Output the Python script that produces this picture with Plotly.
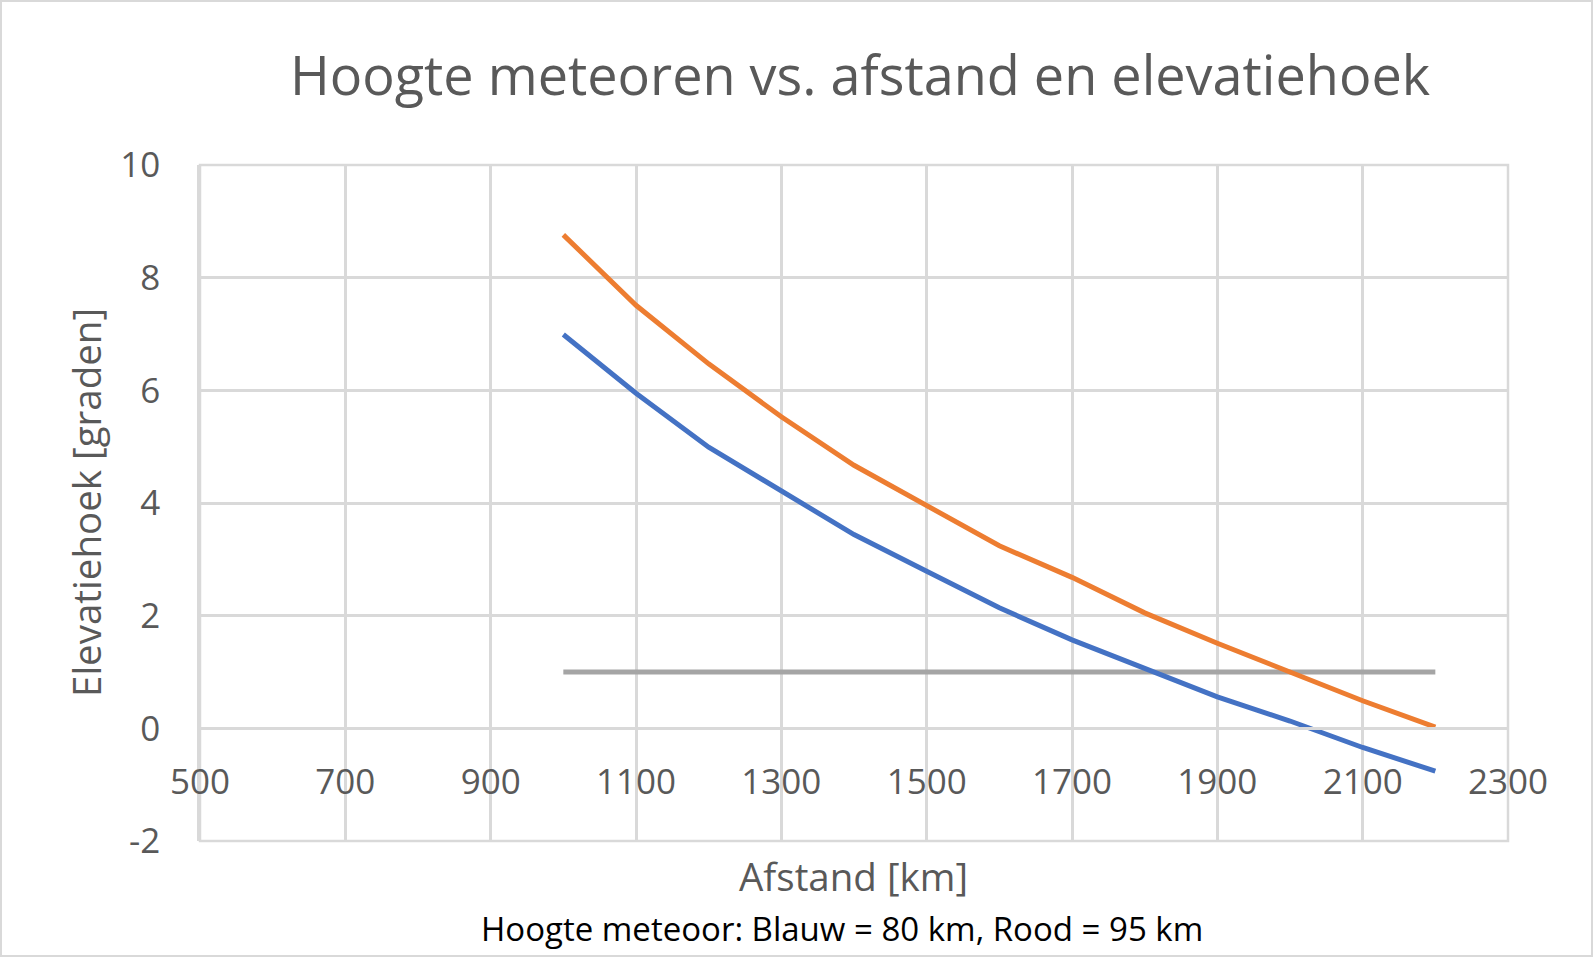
import plotly.graph_objects as go

# ---- data ----
afstand = [1000, 1100, 1200, 1300, 1400, 1500, 1600, 1700, 1800, 1900, 2000, 2100, 2200]
hoek_80km = [6.99, 5.95, 4.99, 4.22, 3.44, 2.79, 2.14, 1.57, 1.06, 0.56, 0.13, -0.34, -0.76]
hoek_95km = [8.76, 7.51, 6.47, 5.53, 4.67, 3.95, 3.24, 2.68, 2.05, 1.51, 0.99, 0.49, 0.02]
grens_x = [1000, 2200]
grens_y = [1, 1]

x_ticks = [500, 700, 900, 1100, 1300, 1500, 1700, 1900, 2100, 2300]
y_ticks = [-2, 0, 2, 4, 6, 8, 10]
y_ticktext = ["-2", "0", "2", "4", "6", "8", "10"]

title_text = "Hoogte meteoren vs. afstand en elevatiehoek"
x_title = "Afstand [km]"
y_title = "Elevatiehoek [graden]"
subtitle = "Hoogte meteoor: Blauw = 80 km, Rood = 95 km"

W, H = 1593, 957
L, R, T, B = 200, 85, 165, 116
PW, PH = W - L - R, H - T - B
FONT = "'Open Sans', sans-serif"
GRAY = "#595959"
GRID = "#d9d9d9"

fig = go.Figure()
fig.add_trace(go.Scatter(x=grens_x, y=grens_y, mode="lines",
                         line=dict(color="#A5A5A5", width=5), showlegend=False))
fig.add_trace(go.Scatter(x=afstand, y=hoek_95km, mode="lines",
                         line=dict(color="#ED7D31", width=5), showlegend=False))
fig.add_trace(go.Scatter(x=afstand, y=hoek_80km, mode="lines",
                         line=dict(color="#4472C4", width=5), showlegend=False))

fig.update_layout(
    width=W, height=H,
    margin=dict(l=L, r=R, t=T, b=B),
    paper_bgcolor="white", plot_bgcolor="white",
    font=dict(family=FONT, color=GRAY),
    showlegend=False,
    xaxis=dict(range=[500, 2300], tickvals=x_ticks, showgrid=True, gridcolor=GRID, gridwidth=2.5,
               anchor="free", position=1/6, showline=True, linecolor=GRID, linewidth=2.5,
               zeroline=False, ticks="", ticklabelstandoff=22,
               tickfont=dict(family=FONT, size=35, color=GRAY)),
    yaxis=dict(range=[-2, 10], tickvals=y_ticks, ticktext=y_ticktext, showgrid=True,
               gridcolor=GRID, gridwidth=2.5,
               zeroline=False, showline=True, linecolor=GRID, linewidth=2.5, ticks="",
               ticklabelstandoff=30,
               tickfont=dict(family=FONT, size=35, color=GRAY)),
)

def px_x(px):
    return (px - L) / PW

def px_y(py):
    return (H - B - py) / PH

fig.add_annotation(text=title_text, x=px_x(860), y=px_y(74), xref="paper", yref="paper",
                   showarrow=False, font=dict(family=FONT, size=54, color=GRAY),
                   xanchor="center", yanchor="middle")
fig.add_annotation(text=x_title, x=px_x(853), y=px_y(876), xref="paper", yref="paper",
                   showarrow=False, font=dict(family=FONT, size=38.5, color=GRAY),
                   xanchor="center", yanchor="middle")
fig.add_annotation(text=y_title, x=px_x(86), y=px_y(503), xref="paper", yref="paper",
                   showarrow=False, textangle=-90, font=dict(family=FONT, size=38.5, color=GRAY),
                   xanchor="center", yanchor="middle")
fig.add_annotation(text=subtitle, x=px_x(842), y=px_y(928), xref="paper", yref="paper",
                   showarrow=False, font=dict(family=FONT, size=33, color="black"),
                   xanchor="center", yanchor="middle")

# plot-area frame (gridlines at range edges)
fig.add_shape(type="rect", xref="paper", yref="paper", x0=0, x1=1, y0=0, y1=1,
              line=dict(color=GRID, width=2.5), layer="below")
# chart border
fig.add_shape(type="rect", xref="paper", yref="paper",
              x0=px_x(1), x1=px_x(W - 1), y0=px_y(H - 1), y1=px_y(1),
              line=dict(color=GRID, width=2), layer="below")

fig.write_html("out.html")
